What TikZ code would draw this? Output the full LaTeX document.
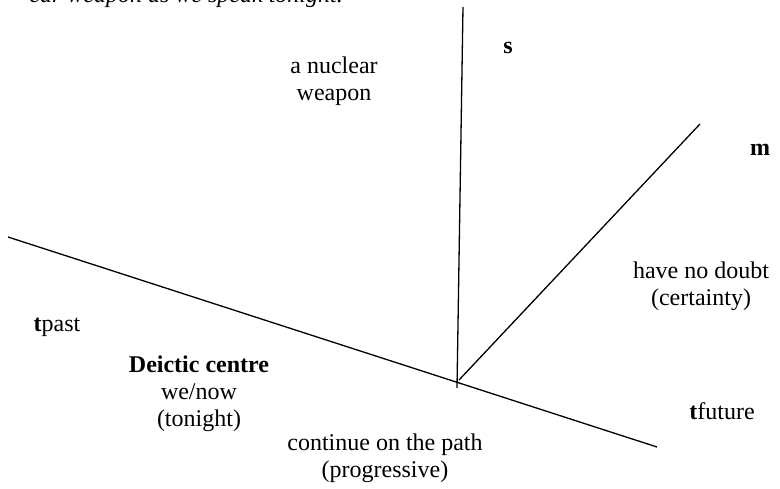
\documentclass[tikz,border=0pt]{standalone}
\usepackage{fontspec}
\setmainfont{Liberation Serif}
\begin{document}
\begin{tikzpicture}[x=1pt,y=-1pt,
    axis/.style={line width=1.3pt},
    lbl/.style={align=center,inner sep=0pt,font=\fontsize{24}{27}\selectfont}]
  \useasboundingbox (0,0) rectangle (780,489);
  % the three axes
  \coordinate (tpast) at (8,237);
  \coordinate (tfuture) at (657,447);
  \coordinate (stop) at (463,7);
  \coordinate (sbottom) at (457,388);
  \coordinate (centre) at (459,380);
  \coordinate (mtop) at (700,124);
  \draw[axis] (tpast) -- (tfuture);
  \draw[axis] (stop) -- (sbottom);
  \draw[axis] (centre) -- (mtop);
  % labels
  \node[lbl,anchor=base east,font=\itshape\fontsize{24}{27}\selectfont] (quote) at (343,3) {ear weapon as we speak tonight.};
  \node[lbl] (nuclear) at (334,81) {a nuclear\\weapon};
  \node[lbl] (slabel) at (508,48) {\textbf{s}};
  \node[lbl] (mlabel) at (760,150) {\textbf{m}};
  \node[lbl] (certainty) at (701,286) {have no doubt\\(certainty)};
  \node[lbl] (pastlabel) at (57,327) {\textbf{t}past};
  \node[lbl] (deictic) at (199,394) {\textbf{Deictic centre}\\we/now\\(tonight)};
  \node[lbl] (progressive) at (385,458) {continue on the path\\(progressive)};
  \node[lbl] (futurelabel) at (722,411) {\textbf{t}future};
\end{tikzpicture}
\end{document}
